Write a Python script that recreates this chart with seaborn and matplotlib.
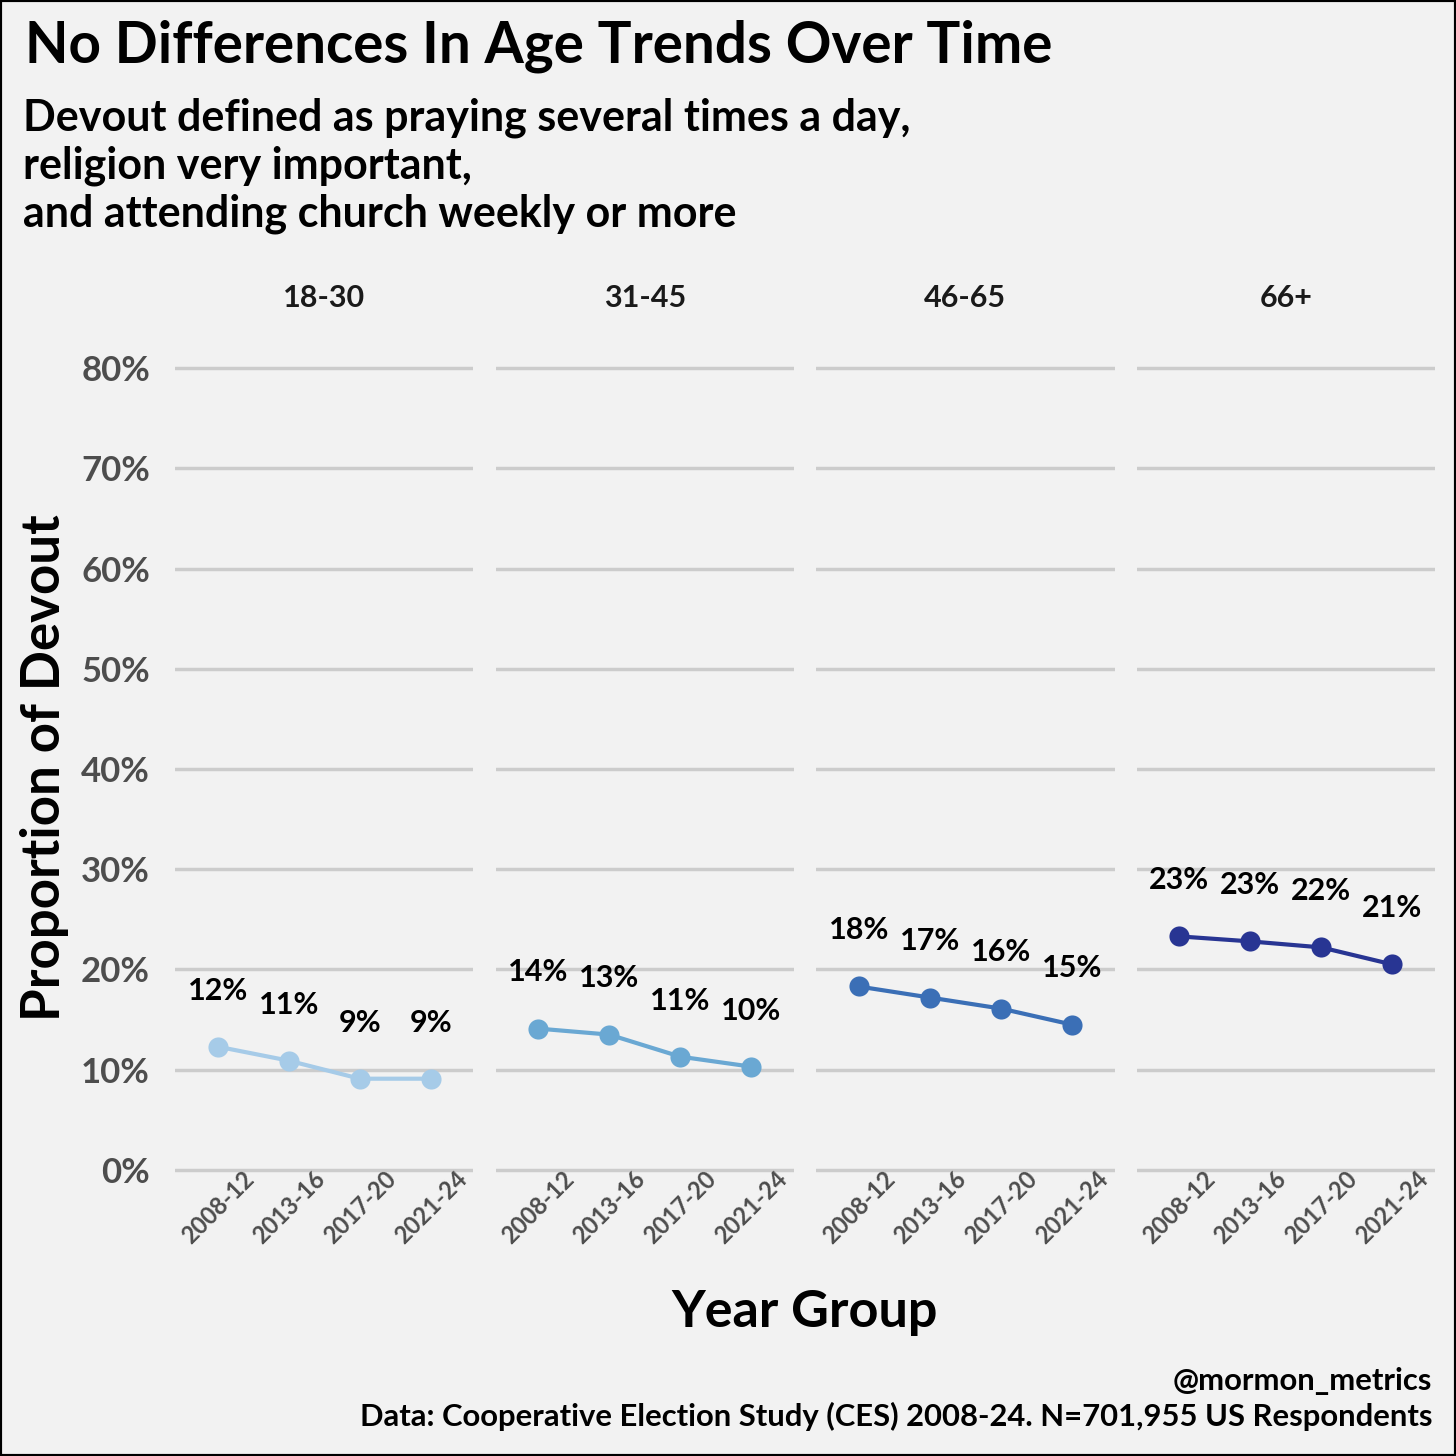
import pandas as pd
import seaborn as sns
import matplotlib
matplotlib.use("Agg")
import matplotlib.pyplot as plt

age_groups = ["18-30", "31-45", "46-65", "66+"]
year_groups = ["2008-12", "2013-16", "2017-20", "2021-24"]
devout_18_30 = [12.3, 10.9, 9.1, 9.1]
devout_31_45 = [14.1, 13.5, 11.3, 10.3]
devout_46_65 = [18.3, 17.2, 16.1, 14.5]
devout_66_plus = [23.3, 22.8, 22.2, 20.5]
labels_18_30 = ["12%", "11%", "9%", "9%"]
labels_31_45 = ["14%", "13%", "11%", "10%"]
labels_46_65 = ["18%", "17%", "16%", "15%"]
labels_66_plus = ["23%", "23%", "22%", "21%"]
colors = ["#a6cbe8", "#6aa8d3", "#3b6fb6", "#283593"]

vals = [devout_18_30, devout_31_45, devout_46_65, devout_66_plus]
labs = [labels_18_30, labels_31_45, labels_46_65, labels_66_plus]
rows = []
for a, v, l in zip(age_groups, vals, labs):
    for y, p, t in zip(year_groups, v, l):
        rows.append({"age": a, "year": y, "pct": p, "label": t})
df = pd.DataFrame(rows)

bg = "#f2f2f2"
sns.set_theme(style="white")
plt.rcParams["font.family"] = ["Lato", "DejaVu Sans"]
plt.rcParams["text.color"] = "black"

g = sns.FacetGrid(df, col="age", col_order=age_groups, sharey=True, sharex=True,
                  height=5, aspect=1)
g.figure.set_size_inches(14.56, 14.56)
g.figure.set_dpi(100)
g.figure.patch.set_facecolor(bg)
g.figure.subplots_adjust(left=0.1202, right=0.9856, bottom=0.1896, top=1 - 338 / 1456,
                         wspace=0.074)

for ax, age, col in zip(g.axes.flat, age_groups, colors):
    d = df[df["age"] == age]
    ax.set_facecolor(bg)
    for yv in range(0, 90, 10):
        ax.axhline(yv, color="#cccccc", lw=2.5, zorder=0)
    sns.lineplot(data=d, x="year", y="pct", color=col, lw=3, ax=ax, sort=False)
    sns.scatterplot(data=d, x="year", y="pct", color=col, s=210, edgecolor=col,
                    linewidth=0, ax=ax, zorder=3)
    for i, (p, t) in enumerate(zip(d["pct"], d["label"])):
        ax.text(i, p + 5.6, t, ha="center", va="center", fontsize=22,
                fontweight="bold", color="black")
    ax.set_xlim(-0.6, 3.6)
    ax.set_ylim(-1, 83)
    ax.set_yticks(range(0, 90, 10))
    ax.set_yticklabels([f"{v}%" for v in range(0, 90, 10)])
    ax.set_xticks(range(4))
    ax.set_xticklabels(year_groups, rotation=45, ha="center", va="center",
                       rotation_mode="anchor",
                       fontsize=17, fontweight="bold", color="#4d4d4d")
    ax.tick_params(axis="x", length=0, pad=20)
    ax.tick_params(axis="y", length=0, pad=18, labelsize=25, labelcolor="#4d4d4d")
    for lab in ax.get_yticklabels():
        lab.set_fontweight("bold")
    for s in ax.spines.values():
        s.set_visible(False)
    ax.set_title(age, fontsize=22, fontweight="bold", color="#1a1a1a", pad=22)
    ax.set_xlabel("")
    ax.set_ylabel("")

fig = g.figure
fig.text(25 / 1456, 1 - 46 / 1456, "No Differences In Age Trends Over Time",
         fontsize=40.8, fontweight="bold", va="center", ha="left")
subtitle = ["Devout defined as praying several times a day,",
            "religion very important,",
            "and attending church weekly or more"]
for i, line in enumerate(subtitle):
    fig.text(23 / 1456, 1 - (118 + 48 * i) / 1456, line, fontsize=31,
             fontweight="bold", va="center", ha="left")
fig.text(45 / 1456, 1 - 768 / 1456, "Proportion of Devout", rotation=90,
         fontsize=38, fontweight="bold", va="center", ha="center")
fig.text(805 / 1456, 1 - 1313 / 1456, "Year Group", fontsize=37.5,
         fontweight="bold", va="center", ha="center")
fig.text(1432 / 1456, 1 - 1381 / 1456, "@mormon_metrics", fontsize=22.3,
         fontweight="bold", va="center", ha="right")
fig.text(1432 / 1456, 1 - 1416 / 1456,
         "Data: Cooperative Election Study (CES) 2008-24. N=701,955 US Respondents",
         fontsize=22.3, fontweight="bold", va="center", ha="right")
fig.add_artist(plt.Rectangle((0, 0), 1, 1, transform=fig.transFigure, fill=False,
                             edgecolor="black", lw=3))
fig.savefig("out.png", dpi=100, facecolor=bg)
